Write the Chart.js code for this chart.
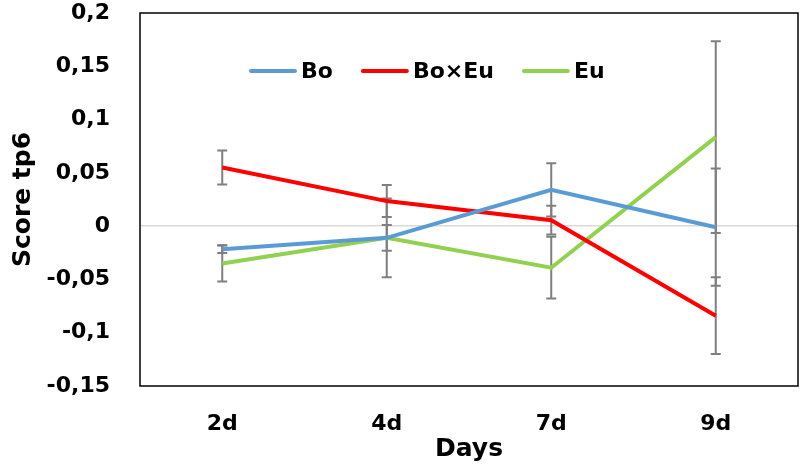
<!DOCTYPE html>
<html>
<head>
<meta charset="utf-8">
<script src="https://cdn.jsdelivr.net/npm/chart.js@4"></script>
<style>
  html, body { margin: 0; padding: 0; background: #fff; }
  #wrap { width: 800px; height: 469px; }
</style>
</head>
<body>
<div id="wrap"><canvas id="scoreChart"></canvas></div>
<script>
// Chart values
const days = ['2d', '4d', '7d', '9d'];
const boValues = [-0.0216, -0.011, 0.034, -0.001];
const boErrors = [0.0035, 0.012, 0.025, 0.055];
const boxEuValues = [0.055, 0.0235, 0.0056, -0.084];
const boxEuErrors = [0.016, 0.015, 0.0135, 0.036];
const euValues = [-0.035, -0.011, -0.039, 0.0835];
const euErrors = [0.017, 0.037, 0.029, 0.09];
const yTickValues = [-0.15, -0.1, -0.05, 0, 0.05, 0.1, 0.15, 0.2];

const FONT = '"DejaVu Sans", sans-serif';

// Excel-style symmetric error bars, drawn under the lines
const errorBarPlugin = {
    id: 'errorBars',
    beforeDatasetsDraw(chart) {
        const ctx = chart.ctx;
        const x = chart.scales.x;
        const y = chart.scales.y;
        ctx.save();
        ctx.strokeStyle = '#7f7f7f';
        ctx.lineWidth = 2;
        chart.data.datasets.forEach(ds => {
            ds.data.forEach((v, i) => {
                const e = ds.errors[i];
                const px = x.getPixelForValue(i);
                const top = y.getPixelForValue(v + e);
                const bot = y.getPixelForValue(v - e);
                ctx.beginPath();
                ctx.moveTo(px, top);
                ctx.lineTo(px, bot);
                ctx.moveTo(px - 5, top);
                ctx.lineTo(px + 5, top);
                ctx.moveTo(px - 5, bot);
                ctx.lineTo(px + 5, bot);
                ctx.stroke();
            });
        });
        ctx.restore();
    }
};

// Box round the plot area and the legend inside it
const frameLegendPlugin = {
    id: 'frameLegend',
    afterDraw(chart) {
        const ctx = chart.ctx;
        const a = chart.chartArea;
        ctx.save();
        ctx.strokeStyle = '#000';
        ctx.lineWidth = 1.5;
        ctx.strokeRect(a.left, a.top, a.right - a.left, a.bottom - a.top);

        ctx.font = 'bold 22px ' + FONT;
        ctx.textBaseline = 'middle';
        ctx.lineCap = 'round';
        ctx.lineWidth = 4;
        let lx = a.left + 111;
        const ly = a.top + 58;
        chart.data.datasets.forEach(ds => {
            ctx.strokeStyle = ds.borderColor;
            ctx.beginPath();
            ctx.moveTo(lx, ly);
            ctx.lineTo(lx + 44, ly);
            ctx.stroke();
            ctx.fillStyle = '#000';
            ctx.fillText(ds.label, lx + 50, ly + 1);
            lx += 50 + ctx.measureText(ds.label).width + 30;
        });
        ctx.restore();
    }
};

function makeSeries(label, values, errors, color) {
    return {
        label: label,
        data: values,
        errors: errors,
        borderColor: color,
        backgroundColor: color,
        borderWidth: 4,
        pointRadius: 0,
        tension: 0,
        fill: false
    };
}

new Chart(document.getElementById('scoreChart'), {
    type: 'line',
    data: {
        labels: days,
        datasets: [
            makeSeries('Bo', boValues, boErrors, '#5b9bd5'),
            makeSeries('Bo×Eu', boxEuValues, boxEuErrors, '#ff0000'),
            makeSeries('Eu', euValues, euErrors, '#92d050')
        ]
    },
    options: {
        responsive: true,
        maintainAspectRatio: false,
        animation: false,
        layout: { padding: { top: 13, right: 2, left: 0, bottom: 0 } },
        plugins: {
            legend: { display: false },
            tooltip: { enabled: false }
        },
        scales: {
            x: {
                offset: true,
                grid: { display: false, drawTicks: false },
                border: { display: false },
                afterFit(scale) {
                    scale.height = 83;
                    scale.paddingLeft = 0;
                    scale.paddingRight = 0;
                },
                ticks: {
                    color: '#000',
                    padding: 25,
                    font: { family: FONT, size: 22, weight: 'bold' }
                },
                title: {
                    display: true,
                    text: 'Days',
                    color: '#000',
                    padding: { top: 0, bottom: 5 },
                    font: { family: FONT, size: 25, weight: 'bold' }
                }
            },
            y: {
                min: -0.15,
                max: 0.2,
                afterFit(scale) {
                    scale.width = 140;
                    scale.paddingTop = 0;
                    scale.paddingBottom = 0;
                },
                afterBuildTicks(scale) {
                    scale.ticks = yTickValues.map(v => ({ value: v }));
                },
                grid: {
                    drawTicks: false,
                    lineWidth: 1.5,
                    color: ctx => (ctx.tick && Math.abs(ctx.tick.value) < 1e-9) ? '#d9d9d9' : 'rgba(0,0,0,0)'
                },
                border: { display: false },
                ticks: {
                    color: '#000',
                    padding: 30,
                    font: { family: FONT, size: 22, weight: 'bold' },
                    callback: function(value) {
                        return String(Math.round(value * 100) / 100).replace('.', ',');
                    }
                },
                title: {
                    display: true,
                    text: 'Score tp6',
                    color: '#000',
                    padding: { top: 8, bottom: 0 },
                    font: { family: FONT, size: 25, weight: 'bold' }
                }
            }
        }
    },
    plugins: [errorBarPlugin, frameLegendPlugin]
});
</script>
</body>
</html>
